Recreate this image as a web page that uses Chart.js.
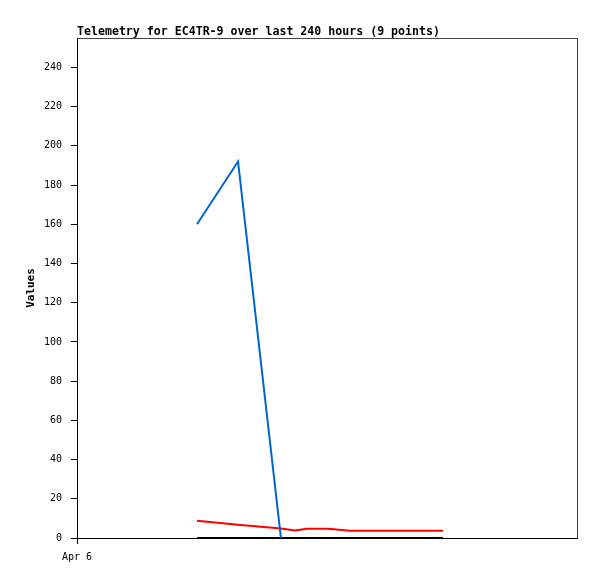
<!DOCTYPE html>
<html>
<head>
<meta charset="utf-8">
<script src="https://cdn.jsdelivr.net/npm/chart.js@4/dist/chart.umd.min.js"></script>
<style>
  html, body { margin: 0; padding: 0; background: #fff; }
  #wrap { width: 597px; height: 579px; }
</style>
</head>
<body>
<div id="wrap"><canvas id="telemetry_chart" width="597" height="579"></canvas></div>
<script>
var chartTitle = 'Telemetry for EC4TR-9 over last 240 hours (9 points)'
,   yTitle = 'Values'
,   xTickValues = [0]
,   xTickLabels = ['Apr 6']
,   hours = [57.6, 77.3, 97.9, 104.6, 110.4, 120.5, 131.0, 155.0, 175.7]
,   blueValues = [160, 192, 0, null, null, null, null, null, null]
,   redValues = [8.8, 6.8, 4.8, 3.8, 4.7, 4.7, 3.7, 3.7, 3.7]
,   blackValues = [0, 0, 0, 0, 0, 0, 0, 0, 0]
;

function toPoints(values) {
    var pts = [];
    for (var i = 0; i < hours.length; i++) {
        pts.push({ x: hours[i], y: values[i] });
    }
    return pts;
}

// frame + title drawn by hand, axes drawn by the scales
var framePlugin = {
    id: 'frame',
    beforeDraw: function (chart) {
        var ctx = chart.ctx, a = chart.chartArea;
        ctx.save();
        ctx.strokeStyle = '#444';
        ctx.lineWidth = 1;
        ctx.strokeRect(a.left + 0.5, a.top + 0.5, a.right - a.left, a.bottom - a.top);
        ctx.fillStyle = '#000';
        ctx.font = 'bold 11.6px "DejaVu Sans Mono", monospace';
        ctx.textBaseline = 'alphabetic';
        ctx.textAlign = 'left';
        ctx.fillText(chartTitle, a.left, a.top - 3);
        ctx.restore();
    }
};

var ctx = document.getElementById('telemetry_chart').getContext('2d');
var chart = new Chart(ctx, {
    type: 'line',
    data: {
        datasets: [
            { data: toPoints(blueValues), borderColor: '#0066cc', borderWidth: 2, pointRadius: 0, tension: 0, spanGaps: false },
            { data: toPoints(redValues), borderColor: '#ff0000', borderWidth: 2, pointRadius: 0, tension: 0 },
            { data: toPoints(blackValues), borderColor: '#000000', borderWidth: 2, pointRadius: 0, tension: 0 }
        ]
    },
    options: {
        responsive: false,
        animation: false,
        layout: { padding: { left: 0, right: 20, top: 38, bottom: 0 } },
        plugins: { legend: { display: false }, tooltip: { enabled: false }, title: { display: false } },
        scales: {
            x: {
                type: 'linear',
                min: 0,
                max: 240,
                afterFit: function (s) { s.height = 41; },
                afterBuildTicks: function (s) {
                    s.ticks = xTickValues.map(function (v) { return { value: v }; });
                },
                ticks: {
                    color: '#000',
                    font: { family: '"DejaVu Sans Mono", monospace', size: 10 },
                    padding: 7,
                    maxRotation: 0,
                    callback: function (v) {
                        var i = xTickValues.indexOf(v);
                        return i >= 0 ? xTickLabels[i] : '';
                    }
                },
                grid: { drawOnChartArea: false, drawTicks: true, tickLength: 6, color: '#000' },
                border: { display: true, color: '#000', width: 1 }
            },
            y: {
                min: 0,
                max: 255,
                afterFit: function (s) { s.width = 77; },
                ticks: {
                    stepSize: 20,
                    includeBounds: false,
                    color: '#000',
                    font: { family: '"DejaVu Sans Mono", monospace', size: 10 },
                    padding: 9
                },
                grid: { drawOnChartArea: false, drawTicks: true, tickLength: 6, color: '#000' },
                border: { display: true, color: '#000', width: 1 },
                title: {
                    display: true,
                    text: yTitle,
                    color: '#000',
                    font: { family: '"DejaVu Sans Mono", monospace', size: 11, weight: 'bold' },
                    padding: { top: 25, bottom: 0 }
                }
            }
        }
    },
    plugins: [framePlugin]
});
</script>
</body>
</html>
